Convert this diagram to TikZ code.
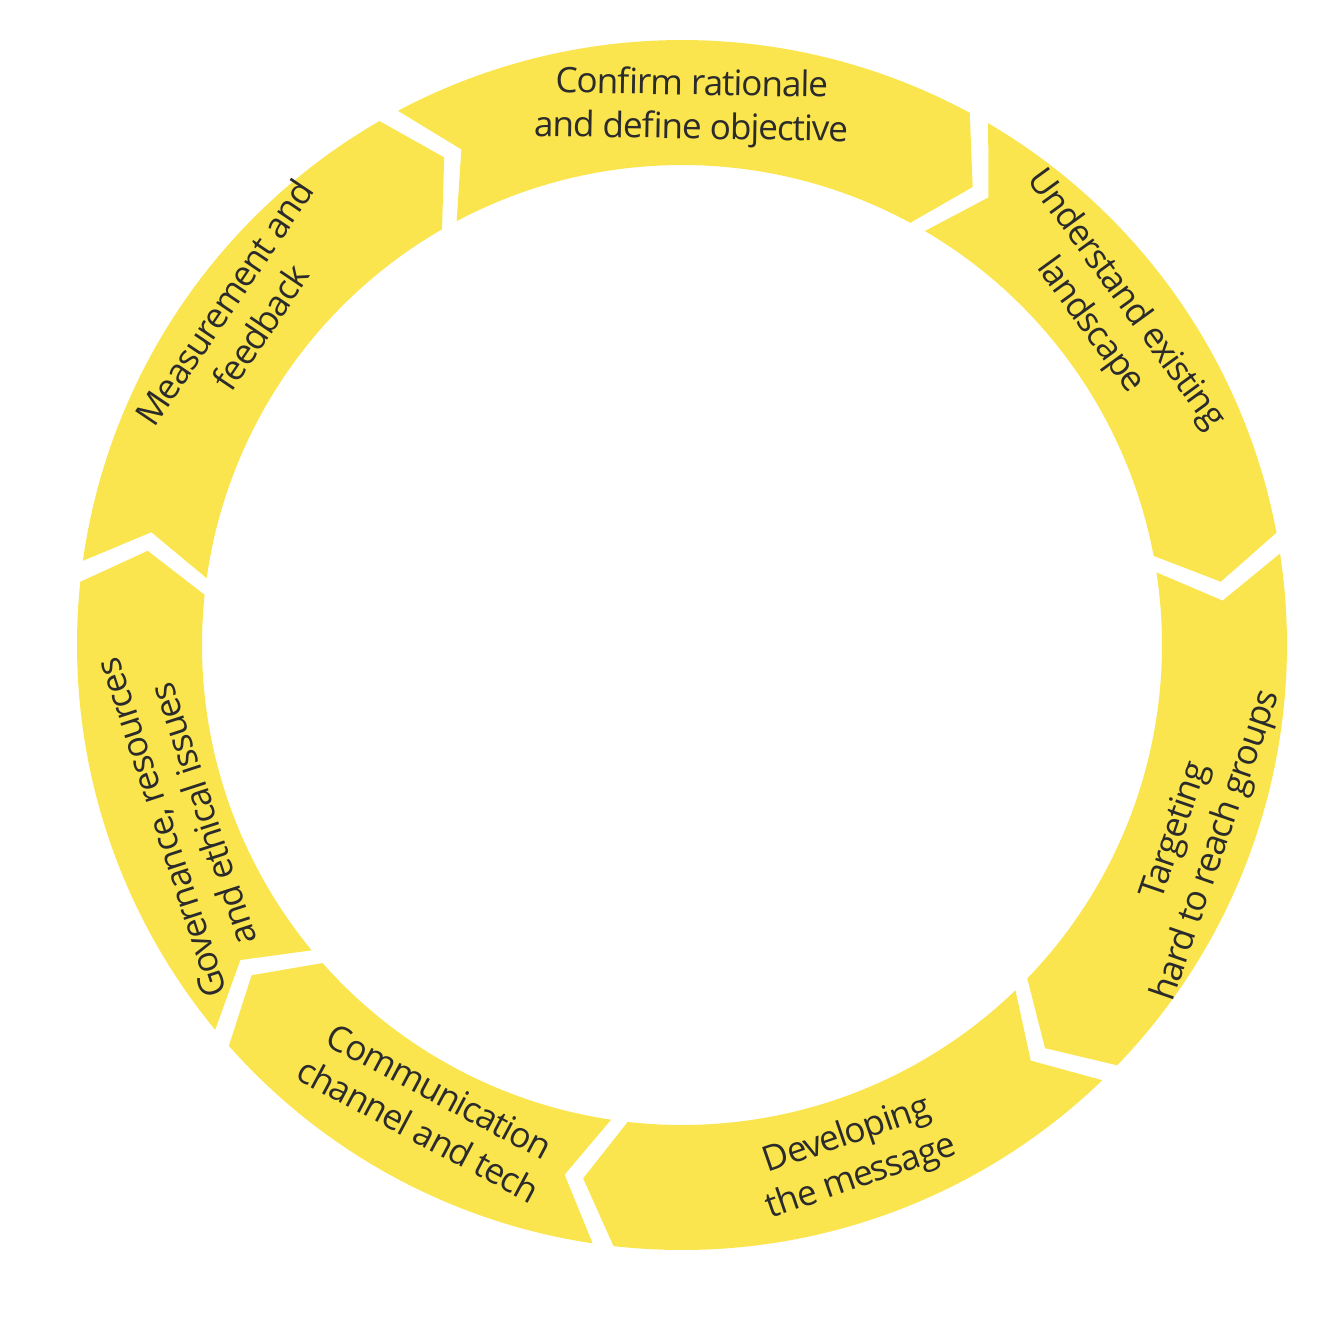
\documentclass[tikz,border=0pt]{standalone}
\usepackage{fontspec}
\setmainfont{Open Sans}
\definecolor{stepyellow}{HTML}{FBE54E}
\definecolor{steptext}{HTML}{2B2B2B}
% one chevron step of the ring: start angle, end angle
\newcommand{\ringstep}[2]{%
  \fill[ringseg] ({#1-2}:\Ro) arc[start angle={#1-2}, end angle={#2}, radius=\Ro]
    -- ({#2-4}:\Rm) -- ({#2}:\Ri)
    arc[start angle={#2}, end angle={#1-2}, radius=\Ri]
    -- ({#1-6}:\Rm) -- cycle;}
\tikzset{
  ringseg/.style={fill=stepyellow},
  steplabel/.style={text=steptext, align=center, inner sep=1pt, font=\fontsize{20}{25}\selectfont\addfontfeatures{LetterSpace=-3}}
}
\begin{document}
\begin{tikzpicture}
	\useasboundingbox (0,0) rectangle (26.76,-26.52);
	\def\Ro{12.1}
	\def\Ri{9.6}
	\def\Rm{10.85}

	\begin{scope}[shift={(13.64,-12.9)}]
	\ringstep{120}{61.6}
	\ringstep{61.6}{10.7}
	\ringstep{10.7}{-44}
	\ringstep{-44}{-96.5}
	\ringstep{-96.5}{-138.5}
	\ringstep{-138.5}{-186}
	\ringstep{-186}{-240}

	\node[steplabel, rotate=-1](confirm) at (89:10.75){Confirm rationale\\and define objective};
	\node[steplabel, rotate=-54](landscape) at (38:10.8){Understand existing\\landscape};
	\node[steplabel, rotate=71](targeting) at (-20.6:11){Targeting\\hard to reach groups};
	\node[steplabel, rotate=19](message) at (-71.4:10.8){Developing\\the message};
	\node[steplabel, rotate=-28](channel) at (-118.5:10.6){Communication\\channel and tech};
	\node[steplabel, rotate=108](governance) at (199.4:10.6){Governance, resources\\and ethical issues};
	\node[steplabel, rotate=56](feedback) at (143.1:11){Measurement and\\feedback};
	\end{scope}
\end{tikzpicture}
\end{document}
